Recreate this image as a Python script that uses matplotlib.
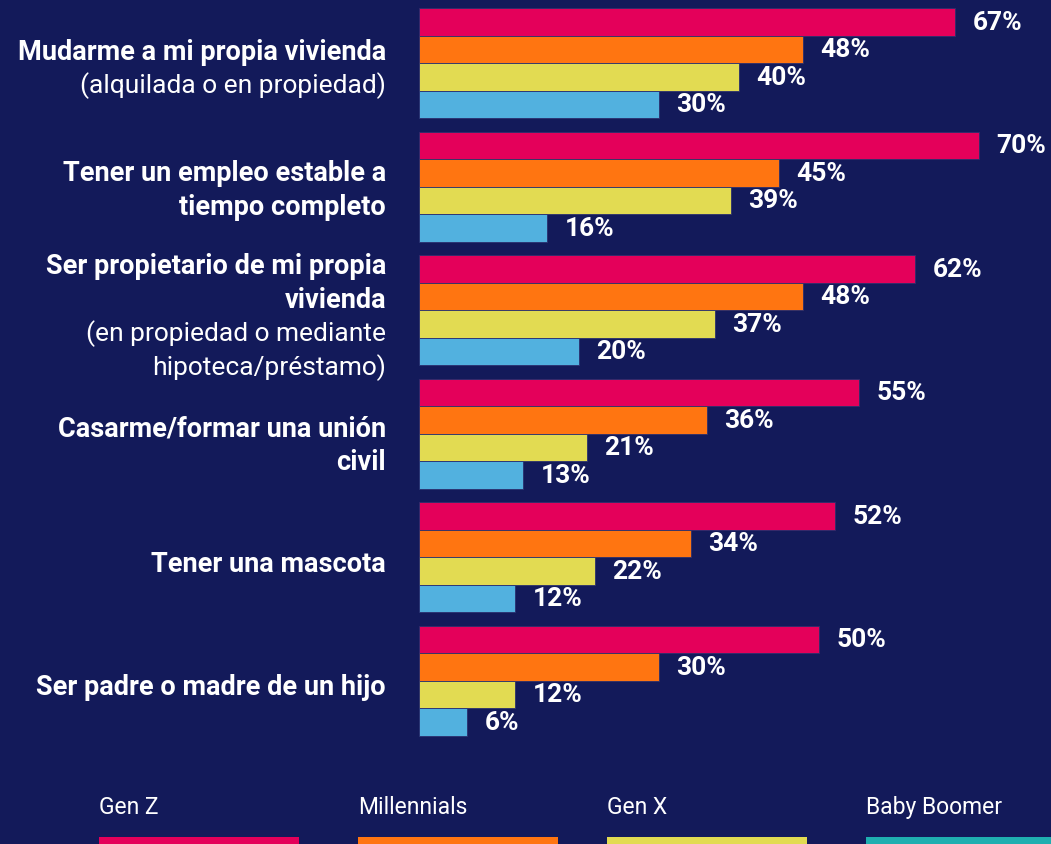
import matplotlib
matplotlib.use("Agg")
import matplotlib.pyplot as plt
from matplotlib.patches import Rectangle
import numpy as np

# ---- data ----
categories_bold = [
    ["Mudarme a mi propia vivienda"],
    ["Tener un empleo estable a", "tiempo completo"],
    ["Ser propietario de mi propia", "vivienda"],
    ["Casarme/formar una unión", "civil"],
    ["Tener una mascota"],
    ["Ser padre o madre de un hijo"],
]
categories_sub = [
    ["(alquilada o en propiedad)"],
    [],
    ["(en propiedad o mediante", "hipoteca/préstamo)"],
    [],
    [],
    [],
]
series_names = ["Gen Z", "Millennials", "Gen X", "Baby Boomer"]
gen_z = [67, 70, 62, 55, 52, 50]
millennials = [48, 45, 48, 36, 34, 30]
gen_x = [40, 39, 37, 21, 22, 12]
baby_boomer = [30, 16, 20, 13, 12, 6]

# ---- style ----
BG = "#131A5A"
bar_colors = ["#E4005A", "#FF7511", "#E2DB52", "#52B1DF"]
legend_colors = ["#E4005A", "#FF7511", "#E2DB52", "#1FAFB0"]
FONT = "Roboto"

W, H = 1051, 845
fig = plt.figure(figsize=(W / 100, H / 100), dpi=100, facecolor=BG)

px_per_pct = 8.0
ax_left = 419
ax = fig.add_axes([ax_left / W, 0, (W - ax_left) / W, 1])
ax.set_facecolor(BG)
ax.set_xlim(0, (W - ax_left) / px_per_pct)

pitch = 123.5
c0 = 64.0
ax.set_ylim((H - c0) / pitch, -c0 / pitch)
for s in ax.spines.values():
    s.set_visible(False)
ax.set_xticks([])
ax.set_yticks([])

h = 27.5 / pitch
y = np.arange(len(gen_z))
all_series = [gen_z, millennials, gen_x, baby_boomer]
for k, (vals, col) in enumerate(zip(all_series, bar_colors)):
    yy = y + (k - 1.5) * h
    ax.barh(yy, vals, height=h, color=col, edgecolor="#2a2f6e", linewidth=0.6)
    for yi, v in zip(yy, vals):
        ax.annotate(f"{v}%", xy=(v, yi), xytext=(12.5, 0), textcoords="offset points",
                    va="center", ha="left", color="white", fontsize=19,
                    fontweight="bold", family=FONT)

# category labels
pt = 0.72  # points per pixel at dpi 100
line_px = 33.5
shifts = [-5, -3, -6, -11, -7, -6]
for i in range(len(gen_z)):
    lines = [(t, "bold") for t in categories_bold[i]] + [(t, "normal") for t in categories_sub[i]]
    n = len(lines)
    for k, (t, wgt) in enumerate(lines):
        dy_px = ((n - 1) / 2 - k) * line_px + shifts[i]
        ax.annotate(t, xy=(0, i), xycoords=("axes fraction", "data"),
                    xytext=(-33 * pt, dy_px * pt), textcoords="offset points",
                    ha="right", va="center", color="white",
                    fontsize=19.5 if wgt == "bold" else 19,
                    fontweight=wgt, family=FONT, annotation_clip=False)

# legend
leg_x = [99, 358, 607, 866]
for name, col, x0 in zip(series_names, legend_colors, leg_x):
    fig.text(x0 / W, 1 - 808 / H, name, color="white", fontsize=16.5,
             fontweight="normal", family=FONT, ha="left", va="center")
    fig.patches.append(Rectangle((x0 / W, 0), 200 / W, 7 / H, transform=fig.transFigure,
                                 facecolor=col, edgecolor="none"))

fig.savefig("out.png", dpi=100, facecolor=BG)
